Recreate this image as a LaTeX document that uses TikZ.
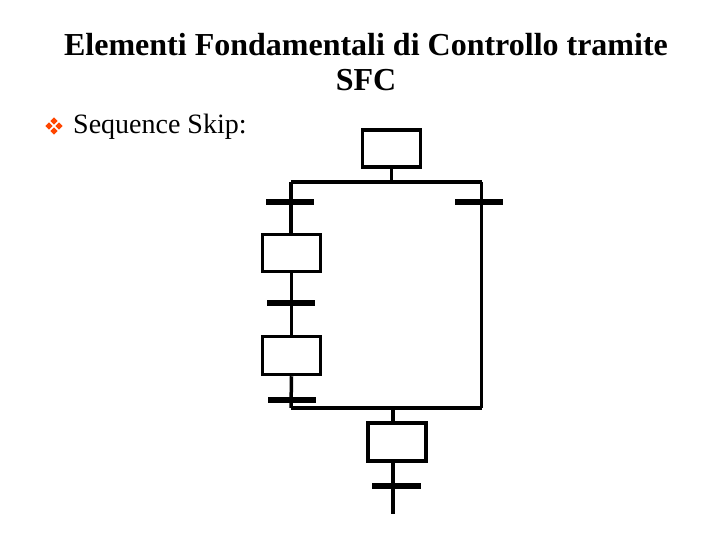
\documentclass[tikz,border=0pt]{standalone}
\usepackage{fontspec}
\setmainfont{Liberation Serif}
\begin{document}
\begin{tikzpicture}[x=1pt,y=-1pt,
  stepbox/.style={draw,line width=3.5pt,minimum width=58pt,minimum height=37pt,inner sep=0pt},
  trans/.style={fill=black,minimum width=48pt,minimum height=6pt,inner sep=0pt},
  wire/.style={line width=3.5pt},
  bul/.style={fill=orange!55!red,draw=none}]
\useasboundingbox (0,0) rectangle (720,540);
\node[font=\bfseries\fontsize{32}{35}\selectfont,align=center] (title) at (366,62) {Elementi Fondamentali di Controllo tramite\\SFC};
% bullet
\foreach \dx/\dy in {0/-5,5/0,0/5,-5/0}{
  \fill[bul] (54+\dx,126+\dy-3.6) -- (54+\dx+3.6,126+\dy) -- (54+\dx,126+\dy+3.6) -- (54+\dx-3.6,126+\dy) -- cycle;}
\node[anchor=west,font=\fontsize{28}{32}\selectfont,inner sep=0pt] (lbl) at (73,127) {Sequence Skip:};
% steps
\node[stepbox] (s1) at (391.5,148.5) {};
\node[stepbox] (s2) at (291.5,253) {};
\node[stepbox,minimum height=38pt] (s3) at (291.5,355.5) {};
\node[stepbox,minimum height=38pt] (s4) at (397,442) {};
% transitions
\node[trans] (t1) at (290,202) {};
\node[trans] (t2) at (479,202) {};
\node[trans] (t3) at (290.5,303) {};
\node[trans] (t4) at (292,400) {};
\node[trans,minimum width=49pt] (t5) at (396.5,486) {};
% junctions
\coordinate (j1) at (391.5,182);
\coordinate (L1) at (291,182);
\coordinate (R1) at (481.5,182);
\coordinate (L2) at (291,408);
\coordinate (R2) at (481.5,408);
\coordinate (j2) at (393,408);
\coordinate (e) at (393,514);
\draw[wire] (s1.south) -- (j1);
\draw[wire] (L1) -- (R1);
\draw[wire] (L1) -- (L1 |- s2.north);
\draw[wire] (s2.south) -- (s2.south |- s3.north);
\draw[wire] (s3.south) -- (L2);
\draw[wire] (R1) -- (R2);
\draw[wire] (L2) -- (R2);
\draw[wire] (j2) -- (j2 |- s4.north);
\draw[wire] (j2 |- s4.south) -- (e);
\end{tikzpicture}
\end{document}
